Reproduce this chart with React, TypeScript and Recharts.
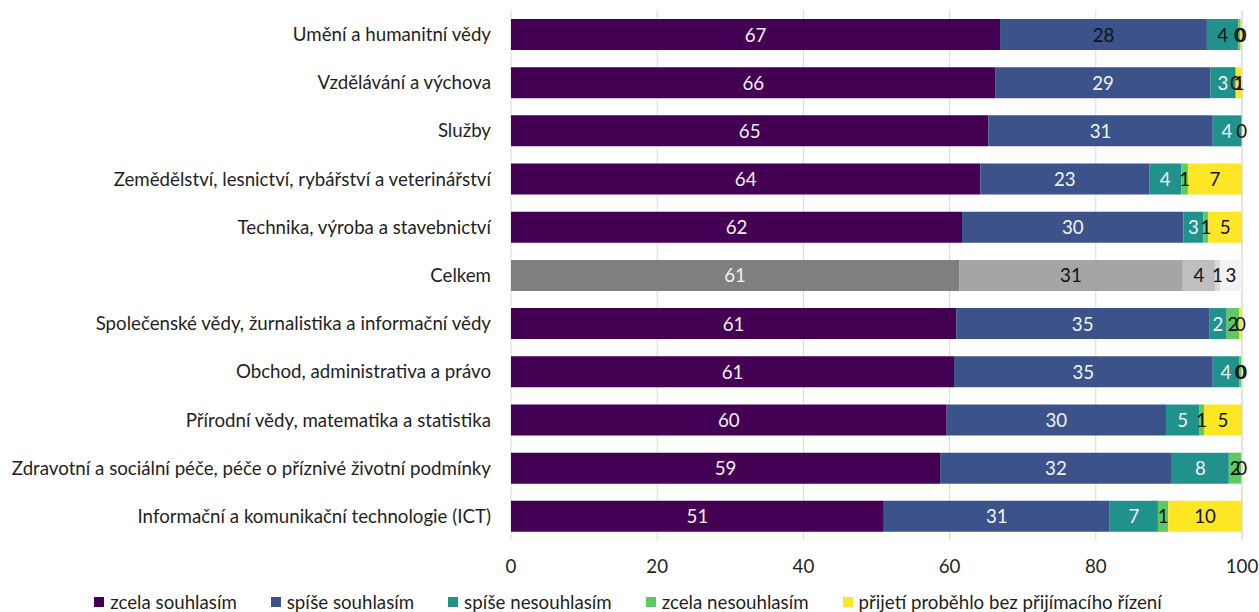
import { BarChart, Bar, XAxis, YAxis, CartesianGrid, Legend, LabelList, Cell } from 'recharts';

const categories = [
  'Umění a humanitní vědy',
  'Vzdělávání a výchova',
  'Služby',
  'Zemědělství, lesnictví, rybářství a veterinářství',
  'Technika, výroba a stavebnictví',
  'Celkem',
  'Společenské vědy, žurnalistika a informační vědy',
  'Obchod, administrativa a právo',
  'Přírodní vědy, matematika a statistika',
  'Zdravotní a sociální péče, péče o příznivé životní podmínky',
  'Informační a komunikační technologie (ICT)',
];

const zcelaSouhlasim = [66.9, 66.3, 65.3, 64.2, 61.7, 61.3, 60.9, 60.6, 59.6, 58.7, 51.0];
const spiseSouhlasim = [28.3, 29.4, 30.7, 23.1, 30.3, 30.6, 34.6, 35.4, 30.0, 31.7, 30.9];
const spiseNesouhlasim = [4.3, 3.4, 3.9, 4.4, 2.7, 4.4, 2.4, 3.6, 4.6, 7.8, 6.6];
const zcelaNesouhlasim = [0.3, 0.1, 0.1, 0.9, 0.7, 0.7, 1.7, 0.3, 0.6, 1.7, 1.4];
const bezRizeni = [0.2, 0.8, null, 7.4, 4.6, 3.0, 0.4, 0.1, 5.2, 0.1, 10.1];

const xTicks = [0, 20, 40, 60, 80, 100];

const FONT = 'Lato, "Noto Sans", sans-serif';
const FS = 18.7;
const TEXT = '#1f1f1f';
const TOTAL = 'Celkem';

// rows where a normally white label is drawn dark (besides the gray total row)
const series = [
  { key: 'a', name: 'zcela souhlasím', color: '#440154', gray: '#7f7f7f', dark: [] as number[] },
  { key: 'b', name: 'spíše souhlasím', color: '#3b528b', gray: '#a5a5a5', dark: [0] },
  { key: 'c', name: 'spíše nesouhlasím', color: '#21918c', gray: '#bfbfbf', dark: [0] },
  { key: 'd', name: 'zcela nesouhlasím', color: '#5ec962', gray: '#d9d9d9', dark: 'all' as const },
  { key: 'e', name: 'přijetí proběhlo bez přijímacího řízení', color: '#fde725', gray: '#f2f2f2', dark: 'all' as const },
];

const data = categories.map((name, i) => ({
  name,
  a: zcelaSouhlasim[i],
  b: spiseSouhlasim[i],
  c: spiseNesouhlasim[i],
  d: zcelaNesouhlasim[i],
  e: bezRizeni[i],
}));

function darkLabel(seriesIdx: number, row: number) {
  const s = series[seriesIdx];
  if (s.dark === 'all') return true;
  if (categories[row] === TOTAL) return seriesIdx > 0;
  return s.dark.includes(row);
}

function makeLabel(seriesIdx: number) {
  return (props: any) => {
    const { x, y, width, height, value, index } = props;
    if (value === null || value === undefined) return null;
    return (
      <text
        x={x + width / 2}
        y={y + height / 2}
        textAnchor="middle"
        dominantBaseline="central"
        fontFamily={FONT}
        fontSize={FS}
        fill={darkLabel(seriesIdx, index) ? '#111111' : '#f2f2f2'}
      >
        {Math.round(value)}
      </text>
    );
  };
}

function CategoryTick(props: any) {
  const { x, y, payload } = props;
  return (
    <text x={x} y={y} textAnchor="end" dominantBaseline="central" fontFamily={FONT} fontSize={FS} fill={TEXT}>
      {payload.value}
    </text>
  );
}

function LegendContent() {
  return (
    <div style={{ display: 'flex', justifyContent: 'center', gap: 34, height: 30, alignItems: 'center', fontFamily: FONT, fontSize: FS, color: TEXT, paddingLeft: 14, paddingTop: 3 }}>
      {series.map((s) => (
        <div key={s.key} style={{ display: 'flex', alignItems: 'center', gap: 6 }}>
          <span style={{ width: 10, height: 10, background: s.color, display: 'inline-block' }} />
          <span>{s.name}</span>
        </div>
      ))}
    </div>
  );
}

export default function App() {
  return (
    <div style={{ position: 'absolute', left: 0, top: 0, background: '#fff' }}>
      <BarChart
        width={1259}
        height={612}
        data={data}
        layout="vertical"
        margin={{ top: 10, right: 17, left: 0, bottom: 0 }}
        barSize={31}
      >
        <CartesianGrid horizontal={false} stroke="#d9d9d9" />
        <XAxis
          type="number"
          domain={[0, 100]}
          ticks={xTicks}
          axisLine={false}
          tickLine={false}
          tickMargin={14}
          height={44}
          tick={{ fontFamily: FONT, fontSize: FS, fill: TEXT }}
        />
        <YAxis
          type="category"
          dataKey="name"
          width={511}
          axisLine={false}
          tickLine={false}
          tickMargin={14}
          tick={<CategoryTick />}
          interval={0}
        />
        <Legend verticalAlign="bottom" height={28} content={<LegendContent />} />
        {series.map((s, si) => (
          <Bar key={s.key} dataKey={s.key} name={s.name} stackId="x" fill={s.color} isAnimationActive={false}>
            {data.map((row, i) => (
              <Cell key={i} fill={row.name === TOTAL ? s.gray : s.color} />
            ))}
            <LabelList dataKey={s.key} content={makeLabel(si)} />
          </Bar>
        ))}
      </BarChart>
    </div>
  );
}
